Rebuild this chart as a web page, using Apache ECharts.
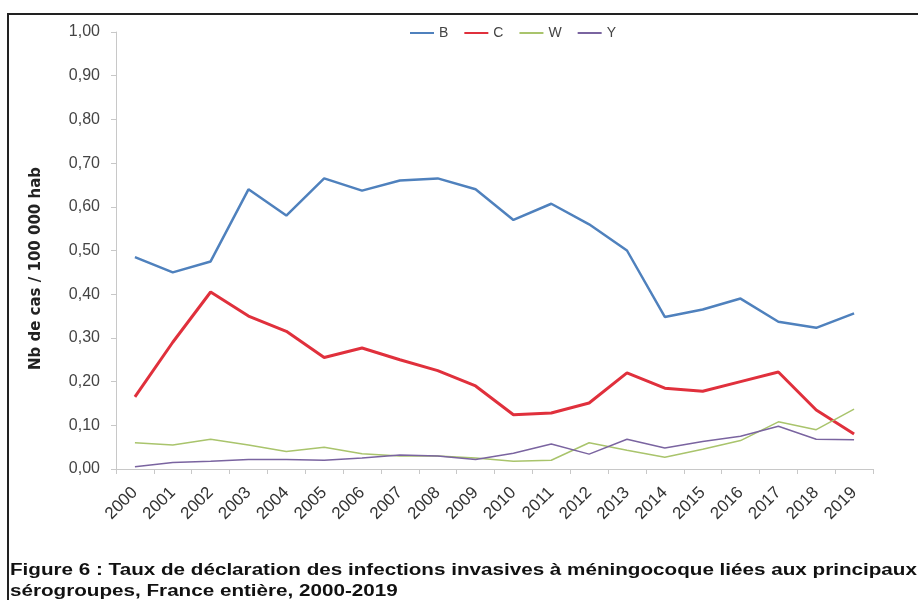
<!DOCTYPE html>
<html>
<head>
<meta charset="utf-8">
<script src="https://cdn.jsdelivr.net/npm/echarts@6/dist/echarts.min.js"></script>
<style>
html,body{margin:0;padding:0;background:#fff;}
#frame{position:absolute;left:7px;top:13px;width:911px;height:587px;border-left:2px solid #222;border-top:2px solid #222;box-sizing:border-box;}
#chart{position:absolute;left:0;top:0;width:918px;height:600px;}
</style>
</head>
<body>
<div id="frame"></div>
<div id="chart"></div>
<script>
const years = ['2000','2001','2002','2003','2004','2005','2006','2007','2008','2009','2010','2011','2012','2013','2014','2015','2016','2017','2018','2019'];
const serB = [0.485,0.450,0.475,0.640,0.580,0.665,0.637,0.660,0.665,0.640,0.570,0.607,0.560,0.500,0.348,0.365,0.390,0.337,0.323,0.356];
const serC = [0.165,0.290,0.405,0.350,0.315,0.255,0.277,0.250,0.225,0.190,0.124,0.128,0.151,0.220,0.185,0.178,0.200,0.222,0.135,0.080];
const serW = [0.060,0.055,0.068,0.055,0.040,0.050,0.035,0.030,0.030,0.025,0.018,0.020,0.060,0.043,0.027,0.045,0.065,0.108,0.090,0.137];
const serY = [0.005,0.015,0.018,0.022,0.022,0.020,0.025,0.032,0.030,0.022,0.036,0.057,0.034,0.068,0.048,0.063,0.075,0.098,0.068,0.067];
const yTicks = {min:0, max:1, interval:0.1};
const caption1 = 'Figure 6 : Taux de déclaration des infections invasives à méningocoque liées aux principaux';
const caption2 = 'sérogroupes, France entière, 2000-2019';

const chart = echarts.init(document.getElementById('chart'), null, {renderer:'canvas'});
const font = 'Liberation Sans, Arial, sans-serif';
function mk(name, data, color, width){
  return {name:name, type:'line', data:data, symbol:'none', smooth:false,
    lineStyle:{color:color, width:width}, itemStyle:{color:color}, z: 2};
}
chart.setOption({
  animation:false,
  textStyle:{fontFamily:font},
  legend:{
    top:21, left:405, itemWidth:24, itemHeight:10, itemGap:16,
    icon:'path://M0,4 L24,4 L24,6 L0,6 Z',
    textStyle:{fontSize:14, color:'#444', fontFamily:font},
    data:['B','C','W','Y']
  },
  grid:{left:116, right:45, top:32, bottom:131, containLabel:false},
  xAxis:{
    type:'category', data:years, boundaryGap:true,
    axisLine:{lineStyle:{color:'#c8c8c8', width:1}},
    axisTick:{show:true, alignWithLabel:false, length:5, lineStyle:{color:'#c8c8c8'}},
    axisLabel:{rotate:45, fontSize:17, color:'#333', margin:21, fontFamily:font, interval:0}
  },
  yAxis:{
    type:'value', min:yTicks.min, max:yTicks.max, interval:yTicks.interval,
    name:'Nb de cas / 100 000 hab', nameLocation:'middle', nameGap:72,
    nameTextStyle:{fontSize:15, fontWeight:'bold', color:'#222', fontFamily:'DejaVu Sans, sans-serif', padding:[0,36,0,0]},
    axisLine:{show:true, lineStyle:{color:'#c8c8c8', width:1}},
    axisTick:{show:true, length:5, lineStyle:{color:'#c8c8c8'}},
    splitLine:{show:false},
    axisLabel:{fontSize:16, color:'#444', margin:16, fontFamily:font,
      formatter:function(v){return v.toFixed(2).replace('.', ',');}}
  },
  graphic:[
    {type:'text', left:10, top:563, scaleX:1.29, style:{text:caption1, font:'bold 16px '+font, fill:'#111'}},
    {type:'text', left:10, top:584, scaleX:1.29, style:{text:caption2, font:'bold 16px '+font, fill:'#111'}}
  ],
  series:[
    mk('B', serB, '#4f81bd', 2.5),
    mk('C', serC, '#e0303c', 3),
    mk('W', serW, '#a9c46c', 1.5),
    mk('Y', serY, '#7a64a0', 1.5)
  ]
});
</script>
</body>
</html>
